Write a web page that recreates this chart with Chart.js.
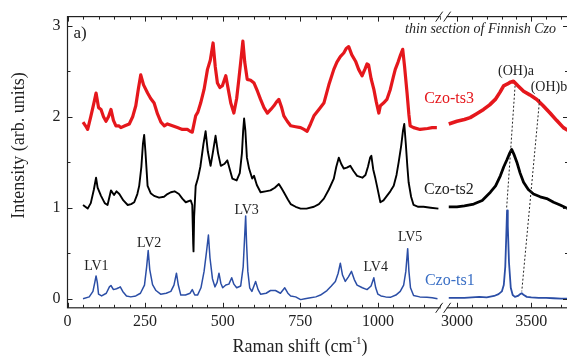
<!DOCTYPE html>
<html><head><meta charset="utf-8">
<script src="https://cdn.jsdelivr.net/npm/chart.js@4.4.1/dist/chart.umd.min.js"></script>
<style>
html,body{margin:0;padding:0;background:#fff;overflow:hidden;width:567px;height:356px}
#wrap{position:relative;width:572px;height:356px}
</style>
</head><body><div id="wrap"><canvas id="c"></canvas></div>
<script>
// ---------- DATA (Raman shift in cm^-1, intensity in arb. units) ----------
const ts1LowX = [50,70,82,88,92,96,100,110,125,135,140,148,158,165,170,178,190,204,220,235,248,255,260,265,274,285,300,318,333,343,351,357,365,380,395,402,410,419,430,440,448,454,459,467,475,482,488,494,500,510,520,529,536,545,558,566,571,574,577,581,587,594,606,614,622,640,654,670,686,700,710,719,735,751,765,783,800,815,836,850,863,872,879,886,895,905,915,924,933,950,965,978,987,993,1000,1010,1025,1040,1058,1072,1083,1090,1096,1100,1105,1115,1135,1158,1175,1192];
const ts1LowY = [0.00,0.02,0.08,0.18,0.25,0.18,0.05,0.03,0.06,0.13,0.145,0.10,0.11,0.12,0.13,0.08,0.03,0.02,0.03,0.06,0.15,0.35,0.53,0.32,0.155,0.09,0.05,0.06,0.08,0.15,0.28,0.15,0.04,0.04,0.06,0.10,0.04,0.04,0.12,0.30,0.52,0.70,0.45,0.22,0.13,0.18,0.28,0.17,0.12,0.15,0.16,0.23,0.16,0.12,0.14,0.35,0.70,0.91,0.60,0.30,0.12,0.08,0.19,0.10,0.05,0.06,0.09,0.09,0.06,0.12,0.06,0.03,0.02,-0.01,0.00,0.01,0.02,0.04,0.09,0.14,0.19,0.28,0.39,0.26,0.19,0.24,0.30,0.21,0.15,0.12,0.10,0.14,0.23,0.12,0.05,0.03,0.02,0.015,0.04,0.08,0.15,0.30,0.55,0.30,0.12,0.035,0.02,0.015,0.01,0.00];
const ts1HighX = [2945,3000,3050,3100,3150,3200,3250,3280,3302,3315,3325,3332,3337,3342,3350,3362,3375,3390,3410,3425,3436,3450,3470,3500,3550,3600,3650,3700,3745];
const ts1HighY = [0.01,0.01,0.01,0.015,0.02,0.015,0.03,0.05,0.08,0.15,0.35,0.70,0.97,0.80,0.40,0.12,0.04,0.02,0.03,0.05,0.06,0.04,0.02,0.015,0.01,0.01,0.005,0.0,0.0];

const ts2LowX = [50,65,75,85,92,97,108,120,129,140,150,158,167,180,194,205,215,225,231,238,243,247,251,258,268,279,295,311,322,333,345,359,370,381,397,402,405,406,408,413,420,428,438,445,452,461,468,477,485,494,505,515,523,531,545,555,562,566,569,573,578,585,595,601,610,622,638,654,668,681,690,697,710,719,735,751,770,794,810,826,842,858,866,874,882,890,900,911,922,933,950,960,968,975,979,985,992,997,1008,1018,1029,1040,1051,1060,1067,1075,1081,1085,1090,1095,1099,1107,1115,1130,1147,1170,1195];
const ts2LowY = [1.03,0.99,1.05,1.20,1.33,1.22,1.13,1.05,1.03,1.19,1.14,1.18,1.15,1.08,1.03,1.04,1.06,1.15,1.24,1.45,1.70,1.80,1.62,1.24,1.16,1.13,1.11,1.12,1.15,1.17,1.18,1.15,1.10,1.06,1.08,1.03,0.60,0.52,0.90,1.24,1.32,1.45,1.70,1.84,1.62,1.46,1.60,1.79,1.60,1.46,1.48,1.52,1.42,1.32,1.30,1.38,1.60,1.85,1.98,1.85,1.55,1.43,1.32,1.35,1.25,1.17,1.18,1.19,1.22,1.26,1.21,1.17,1.09,1.04,1.01,0.99,0.99,1.01,1.04,1.10,1.20,1.32,1.45,1.55,1.48,1.43,1.44,1.46,1.40,1.35,1.33,1.36,1.45,1.55,1.57,1.42,1.32,1.24,1.06,1.08,1.13,1.18,1.24,1.36,1.50,1.68,1.85,1.92,1.70,1.45,1.28,1.12,1.03,1.01,1.01,1.00,0.99];
const ts2HighX = [2945,3000,3050,3113,3170,3225,3260,3292,3315,3337,3355,3368,3385,3403,3425,3448,3480,3515,3560,3604,3650,3694,3745];
const ts2HighY = [1.01,1.01,1.02,1.04,1.08,1.17,1.24,1.35,1.45,1.53,1.60,1.64,1.58,1.50,1.38,1.28,1.20,1.15,1.12,1.10,1.06,1.03,0.99];

const ts3LowX = [50,58,65,75,85,92,100,108,116,124,132,140,148,156,165,172,185,199,210,220,228,236,245,258,268,279,290,301,312,322,338,354,370,386,395,402,413,420,429,440,451,460,469,476,483,491,499,505,510,518,526,536,545,552,558,565,571,579,590,601,612,622,633,644,655,665,673,681,690,697,708,719,735,751,762,772,783,794,810,826,842,858,868,879,890,898,906,916,928,938,949,958,965,970,978,987,995,1003,1008,1018,1029,1040,1050,1056,1065,1073,1080,1086,1094,1100,1104,1115,1136,1160,1175,1190];
const ts3LowY = [1.94,1.90,1.86,2.00,2.15,2.26,2.10,2.08,2.00,1.95,2.00,2.08,1.96,1.90,1.90,1.88,1.90,1.92,2.00,2.12,2.30,2.46,2.35,2.26,2.20,2.15,2.03,1.94,1.90,1.92,1.90,1.88,1.86,1.86,1.84,1.83,2.01,2.05,2.15,2.30,2.52,2.62,2.81,2.55,2.37,2.32,2.34,2.40,2.45,2.30,2.15,2.04,2.20,2.41,2.60,2.83,2.60,2.41,2.40,2.37,2.28,2.19,2.10,2.04,2.08,2.12,2.16,2.19,2.10,2.01,1.95,1.90,1.89,1.88,1.86,1.84,1.92,2.01,2.08,2.15,2.35,2.52,2.60,2.66,2.70,2.75,2.77,2.68,2.61,2.52,2.45,2.52,2.58,2.57,2.42,2.30,2.16,2.04,2.12,2.15,2.19,2.30,2.44,2.52,2.60,2.68,2.74,2.55,2.26,2.02,1.90,1.88,1.86,1.87,1.88,1.88];
const ts3HighX = [2945,3000,3050,3089,3130,3179,3220,3258,3290,3314,3340,3360,3380,3410,3448,3490,3537,3580,3626,3670,3716,3745];
const ts3HighY = [1.92,1.95,1.97,1.99,2.03,2.08,2.13,2.19,2.27,2.34,2.36,2.38,2.39,2.34,2.28,2.24,2.19,2.12,2.04,1.96,1.88,1.85];

const xMajorLow = [0,250,500,750,1000];
const xMinorLow = [50,100,150,200,300,350,400,450,550,600,650,700,800,850,900,950,1050,1100,1150,1200];
const xMajorHigh = [3000,3500];
const xMinorHigh = [3100,3200,3300,3400,3600,3700];
const yMajor = [0,1,2,3];
const yMinor = [0.5,1.5,2.5];

// ---------- broken-axis mapping ----------
const HIGH_T0 = 1254.7, HIGH_K = 0.479, T_MAX = 1612.5, BREAK_T = 1212;
function toAxis(cm){ return cm < 2000 ? cm : HIGH_T0 + (cm - 3000) * HIGH_K; }

const SERIF = "'Liberation Serif','Times New Roman',serif";
const BLUE = '#2b4ea6', RED = '#e5171c', BLACK = '#000000';

function seg(xs, ys, color, w){
  return { data: xs.map((x,i)=>({x: toAxis(x), y: ys[i]})), borderColor: color, borderWidth: w,
           pointRadius: 0, fill: false, tension: 0, borderJoinStyle: 'round' };
}
const datasets = [
  seg(ts3LowX, ts3LowY, RED, 3.2), seg(ts3HighX, ts3HighY, RED, 3.6),
  seg(ts2LowX, ts2LowY, BLACK, 1.9), seg(ts2HighX, ts2HighY, BLACK, 2.8),
  seg(ts1LowX, ts1LowY, BLUE, 1.5), seg(ts1HighX, ts1HighY, BLUE, 1.8)
];

// tick lists
const xTicks = [];
xMajorLow.forEach(v=>xTicks.push({cm:v, major:true}));
xMinorLow.forEach(v=>xTicks.push({cm:v, major:false}));
xMajorHigh.forEach(v=>xTicks.push({cm:v, major:true}));
xMinorHigh.forEach(v=>xTicks.push({cm:v, major:false}));
xTicks.sort((a,b)=>toAxis(a.cm)-toAxis(b.cm));
const yTicks = yMajor.map(v=>({v, major:true})).concat(yMinor.map(v=>({v, major:false}))).sort((a,b)=>a.v-b.v);

// annotations (text, cm, intensity, color, size, style)
const notes = [
  ['LV1', 93, 0.36, '#222', 14, ''],
  ['LV2', 263, 0.61, '#222', 14, ''],
  ['LV3', 577, 0.97, '#222', 14, ''],
  ['LV4', 993, 0.35, '#222', 14, ''],
  ['LV5', 1104, 0.67, '#222', 14, ''],
  ['Czo-ts1', 2952, 0.20, '#3a6fc5', 16, ''],
  ['Czo-ts2', 2946, 1.20, '#222', 16, ''],
  ['Czo-ts3', 2947, 2.20, RED, 16, ''],
  ['(OH)a', 3397, 2.50, '#222', 14, ''],
  ['(OH)b', 3619, 2.32, '#222', 14, '']
];
const dotted = [ [3391, 2.34, 3334, 0.99], [3556, 2.19, 3436, 0.08] ];

const deco = {
  id: 'deco',
  afterDraw(chart){
    const ctx = chart.ctx, ca = chart.chartArea;
    const xs = chart.scales.x, ys = chart.scales.y;
    ctx.save();
    ctx.strokeStyle = '#222'; ctx.lineWidth = 1.2;
    ctx.strokeRect(ca.left, ca.top, ca.right - ca.left, ca.bottom - ca.top);
    ctx.lineWidth = 1;
    ctx.beginPath();
    xTicks.forEach(t=>{
      const px = Math.round(xs.getPixelForValue(toAxis(t.cm))) + 0.5;
      const len = t.major ? 5 : 3;
      ctx.moveTo(px, ca.bottom); ctx.lineTo(px, ca.bottom - len);
      ctx.moveTo(px, ca.top); ctx.lineTo(px, ca.top + len);
    });
    yTicks.forEach(t=>{
      const py = Math.round(ys.getPixelForValue(t.v)) + 0.5;
      const len = t.major ? 5 : 3;
      ctx.moveTo(ca.left, py); ctx.lineTo(ca.left + len, py);
      ctx.moveTo(ca.right, py); ctx.lineTo(ca.right - len, py);
    });
    ctx.stroke();
    // axis break marks
    const bx = xs.getPixelForValue(BREAK_T);
    [ca.top, ca.bottom].forEach(yy=>{
      ctx.fillStyle = '#fff';
      ctx.fillRect(bx - 3, yy - 2, 6, 4);
      ctx.beginPath();
      ctx.moveTo(bx - 8, yy + 5); ctx.lineTo(bx - 1, yy - 5);
      ctx.moveTo(bx + 0, yy + 5); ctx.lineTo(bx + 7, yy - 5);
      ctx.strokeStyle = '#222'; ctx.lineWidth = 1; ctx.stroke();
    });
    // dotted guide lines
    ctx.setLineDash([2,2]); ctx.strokeStyle = '#222'; ctx.lineWidth = 1;
    dotted.forEach(d=>{
      ctx.beginPath();
      ctx.moveTo(xs.getPixelForValue(toAxis(d[0])), ys.getPixelForValue(d[1]));
      ctx.lineTo(xs.getPixelForValue(toAxis(d[2])), ys.getPixelForValue(d[3]));
      ctx.stroke();
    });
    ctx.setLineDash([]);
    // annotations
    ctx.textAlign = 'center'; ctx.textBaseline = 'middle';
    notes.forEach(n=>{
      ctx.font = n[5] + ' ' + n[4] + 'px ' + SERIF;
      ctx.fillStyle = n[3];
      ctx.fillText(n[0], xs.getPixelForValue(toAxis(n[1])), ys.getPixelForValue(n[2]));
    });
    ctx.textBaseline = 'alphabetic';
    ctx.fillStyle = '#222';
    ctx.font = '17px ' + SERIF; ctx.textAlign = 'left';
    ctx.fillText('a)', ca.left + 6, 38);
    ctx.font = 'italic 14px ' + SERIF; ctx.textAlign = 'right';
    ctx.fillText('thin section of Finnish Czo', 556, 33);
    // axis titles
    ctx.font = '18px ' + SERIF; ctx.textAlign = 'left';
    const main = 'Raman shift (cm';
    const w1 = ctx.measureText(main).width;
    ctx.font = '11px ' + SERIF; const w2 = ctx.measureText('-1').width;
    ctx.font = '18px ' + SERIF; const w3 = ctx.measureText(')').width;
    let x0 = 300 - (w1 + w2 + w3) / 2;
    ctx.fillText(main, x0, 352);
    ctx.font = '11px ' + SERIF; ctx.fillText('-1', x0 + w1, 344);
    ctx.font = '18px ' + SERIF; ctx.fillText(')', x0 + w1 + w2, 352);
    ctx.save();
    ctx.translate(24, 145.5); ctx.rotate(-Math.PI/2);
    ctx.textAlign = 'center';
    ctx.fillText('Intensity (arb. units)', 0, 0);
    ctx.restore();
    ctx.restore();
  }
};

new Chart(document.getElementById('c'), {
  type: 'line',
  data: { datasets },
  plugins: [deco],
  options: {
    responsive: true, maintainAspectRatio: false, animation: false,
    layout: { padding: { left: 45.5, right: 4, top: 13, bottom: 21 } },
    plugins: { legend: { display: false }, tooltip: { enabled: false } },
    scales: {
      x: {
        type: 'linear', min: 0, max: T_MAX,
        grid: { display: false, drawTicks: false }, border: { display: false },
        afterBuildTicks: s => { s.ticks = xTicks.map(t=>({ value: toAxis(t.cm) })); },
        ticks: { autoSkip: false, maxRotation: 0, padding: 4, color: '#222',
                 font: { family: SERIF, size: 16 },
                 callback: (v, i) => xTicks[i] && xTicks[i].major ? String(xTicks[i].cm) : '' }
      },
      y: {
        type: 'linear', min: -0.1, max: 3.1,
        grid: { display: false, drawTicks: false }, border: { display: false },
        afterBuildTicks: s => { s.ticks = yTicks.map(t=>({ value: t.v })); },
        ticks: { autoSkip: false, padding: 7, color: '#222',
                 font: { family: SERIF, size: 16 },
                 callback: (v, i) => yTicks[i] && yTicks[i].major ? String(yTicks[i].v) : '' }
      }
    }
  }
});
</script>
</body></html>
